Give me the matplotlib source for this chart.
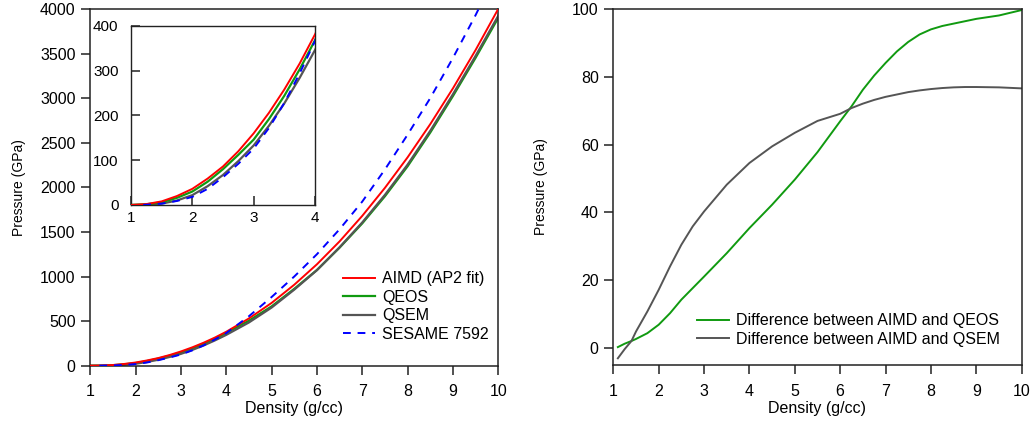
import matplotlib
matplotlib.use('Agg')
import matplotlib.pyplot as plt

plt.rcParams['font.family'] = ['Liberation Sans', 'DejaVu Sans']

# pressure vs density (left panel)
density = [1.0, 1.25, 1.5, 1.75, 2.0, 2.25, 2.5, 2.75, 3.0, 3.25, 3.5, 3.75, 4.0,
           4.5, 5.0, 5.5, 6.0, 6.5, 7.0, 7.5, 8.0, 8.5, 9.0, 9.5, 10.0]
aimd = [0, 2, 8, 20, 36, 59, 86, 120, 160, 206, 258, 316, 381,
        530, 704, 908, 1137, 1394, 1680, 1994, 2336, 2708, 3109, 3539, 4000]
qeos = [0, 1.5, 6, 16, 30, 52, 80, 112, 146, 192, 244, 303, 368,
        505, 665, 862, 1073, 1324, 1596, 1900, 2236, 2614, 3023, 3452, 3900]
qsem = [0, 0.5, 3, 10, 22, 42, 67, 98, 133, 177, 227, 284, 346,
        485, 652, 853, 1071, 1328, 1606, 1915, 2254, 2633, 3043, 3473, 3923]

sesame_density = [1.2, 1.5, 1.75, 2.0, 2.25, 2.5, 2.75, 3.0, 3.25, 3.5, 3.75, 4.0,
                  4.5, 5.0, 5.5, 6.0, 6.5, 7.0, 7.5, 8.0, 8.5, 9.0, 9.5, 10.0]
sesame = [0, 3, 9, 18, 36, 62, 92, 126, 172, 228, 294, 366,
          555, 770, 1000, 1250, 1530, 1840, 2200, 2590, 3000, 3450, 3930, 4450]

# differences (right panel)
diff_density = [1.1, 1.25, 1.4, 1.5, 1.75, 2.0, 2.25, 2.5, 2.75, 3.0, 3.5, 4.0, 4.5, 5.0, 5.5,
                6.0, 6.25, 6.5, 6.75, 7.0, 7.25, 7.5, 7.75, 8.0, 8.25, 8.5, 8.75, 9.0, 9.5, 10.0]
diff_qeos = [0.3, 1.3, 2.1, 2.7, 4.4, 6.9, 10.3, 14.3, 17.7, 21.1, 28.0, 35.4, 42.3, 49.7, 57.8,
             66.9, 71.3, 76.2, 80.4, 84.1, 87.5, 90.3, 92.5, 94.0, 95.0, 95.7, 96.4, 97.1, 98.1, 99.7]
diff_qsem = [-3.0, -0.3, 2.1, 4.9, 10.8, 17.2, 24.1, 30.5, 35.9, 40.3, 48.2, 54.6, 59.5, 63.5, 67.0,
             69.1, 70.8, 72.1, 73.2, 74.1, 74.8, 75.5, 76.0, 76.4, 76.7, 76.9, 77.0, 77.0, 76.9, 76.6]

RED = '#ff0000'
GREEN = '#109a10'
GRAY = '#555555'
BLUE = '#0000ff'


def style_axes(ax, direction='out', size=11.5, pad=4):
    for s in ax.spines.values():
        s.set_linewidth(1.1)
        s.set_color('#222222')
    ax.tick_params(direction=direction, length=6.5, width=1.1, labelsize=size,
                   top=False, right=False, pad=pad, color='#222222')


fig = plt.figure(figsize=(10.32, 4.3), dpi=100)

ax1 = fig.add_axes([0.0875, 0.1495, 0.3953, 0.8298])
ax1.plot(density, qsem, color=GRAY, lw=1.6, label='QSEM', zorder=2)
ax1.plot(density, qeos, color=GREEN, lw=1.6, label='QEOS', zorder=1)
ax1.plot(density, aimd, color=RED, lw=1.4, label='AIMD (AP2 fit)', zorder=3)
ax1.plot(sesame_density, sesame, color=BLUE, lw=1.4, ls=(0, (4, 3.5)), label='SESAME 7592', zorder=4)
ax1.set_xlim(1, 10)
ax1.set_ylim(0, 4000)
ax1.set_xticks(range(1, 11))
ax1.set_yticks(range(0, 4001, 500))
style_axes(ax1)
ax1.tick_params(axis='x', pad=7)
ax1.set_xlabel('Density (g/cc)', fontsize=11.5)
ax1.set_ylabel('Pressure (GPa)', fontsize=10)
ax1.xaxis.set_label_coords(0.5, -0.1)
ax1.yaxis.set_label_coords(-0.158, 0.5)

h, l = ax1.get_legend_handles_labels()
order = [2, 1, 0, 3]
ax1.legend([h[i] for i in order], [l[i] for i in order], loc='upper left',
           bbox_to_anchor=(0.62, 0.265), frameon=False, fontsize=11.5,
           handlelength=2.0, handletextpad=0.45, labelspacing=0.22,
           borderpad=0, borderaxespad=0)

# inset
ins = fig.add_axes([0.1269, 0.5233, 0.1783, 0.4163])
ins.plot(density, qsem, color=GRAY, lw=1.6, zorder=1)
ins.plot(density, qeos, color=GREEN, lw=1.6, zorder=2)
ins.plot(density, aimd, color=RED, lw=1.4, zorder=3)
ins.plot(sesame_density, sesame, color=BLUE, lw=1.4, ls=(0, (4, 3.5)), zorder=4)
ins.set_xlim(1, 4)
ins.set_ylim(0, 400)
ins.set_xticks([1, 2, 3, 4])
ins.set_yticks([0, 100, 200, 300, 400])
style_axes(ins, direction='in', size=11, pad=9)
ins.tick_params(axis='x', pad=4)
for s in ins.spines.values():
    s.set_linewidth(1.0)

# right panel
ax2 = fig.add_axes([0.5943, 0.151, 0.3957, 0.828])
ax2.plot(diff_density, diff_qeos, color=GREEN, lw=1.4, label='Difference between AIMD and QEOS')
ax2.plot(diff_density, diff_qsem, color=GRAY, lw=1.4, label='Difference between AIMD and QSEM')
ax2.set_xlim(1, 10)
ax2.set_ylim(-5, 100)
ax2.set_xticks(range(1, 11))
ax2.set_yticks(range(0, 101, 20))
style_axes(ax2)
ax2.tick_params(axis='x', pad=7)
ax2.set_xlabel('Density (g/cc)', fontsize=11.5)
ax2.set_ylabel('Pressure (GPa)', fontsize=10)
ax2.xaxis.set_label_coords(0.5, -0.1)
ax2.yaxis.set_label_coords(-0.16, 0.5)
ax2.legend(loc='upper left', bbox_to_anchor=(0.205, 0.145), frameon=False, fontsize=11.5,
           handlelength=2.0, handletextpad=0.45, labelspacing=0.22,
           borderpad=0, borderaxespad=0)

fig.savefig('out.png', dpi=100)
